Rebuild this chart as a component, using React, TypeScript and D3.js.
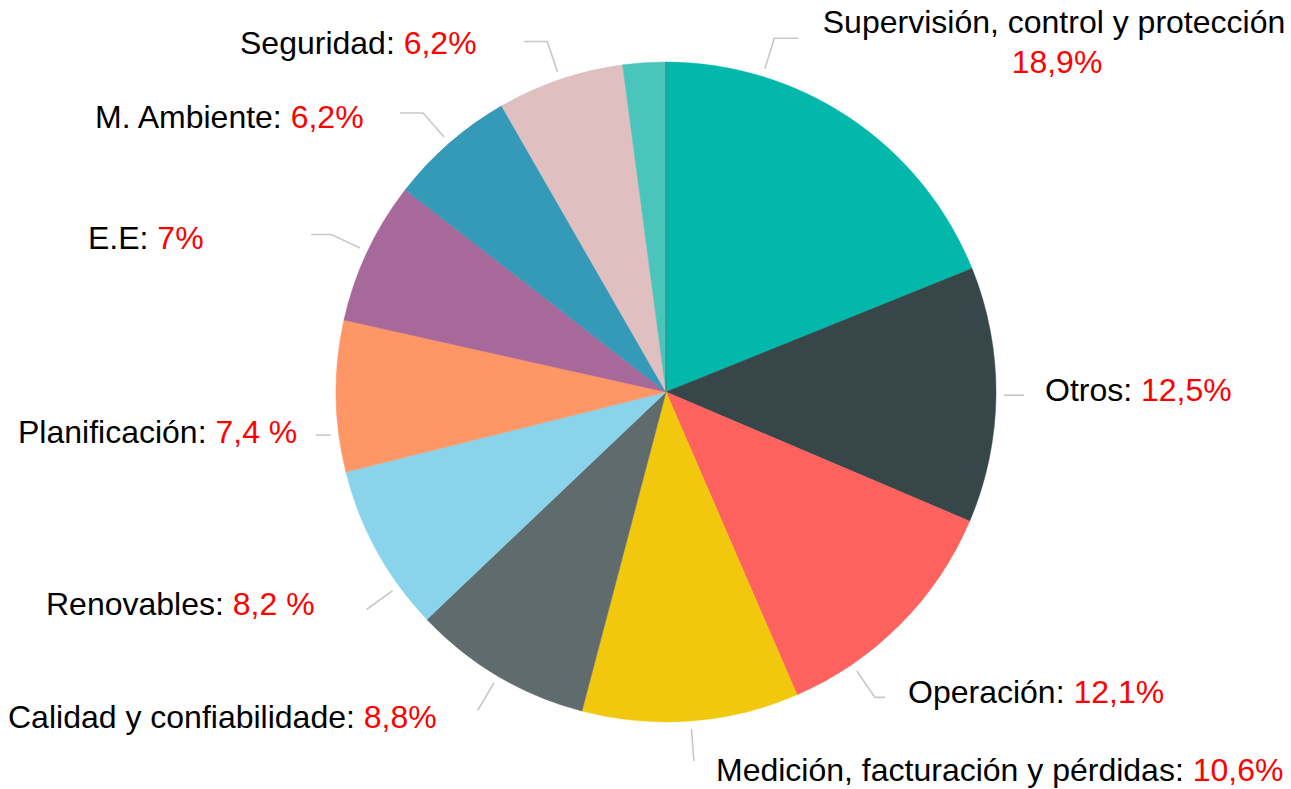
import React from "react";
import * as d3 from "d3";

const categories = [
  "Supervisión, control y protección",
  "Otros",
  "Operación",
  "Medición, facturación y pérdidas",
  "Calidad y confiabilidade",
  "Renovables",
  "Planificación",
  "E.E",
  "M. Ambiente",
  "Seguridad",
  "Sin etiqueta",
];
const values = [18.9, 12.5, 12.1, 10.6, 8.8, 8.2, 7.4, 7.0, 6.2, 6.2, 2.1];
const valueLabels = ["18,9%", "12,5%", "12,1%", "10,6%", "8,8%", "8,2 %", "7,4 %", "7%", "6,2%", "6,2%", ""];
const colors = [
  "#01B8AA", "#374649", "#FD625E", "#F2C80F", "#5F6B6D",
  "#8AD4EB", "#FE9666", "#A66999", "#3599B8", "#DFBFBF", "#4AC5BB",
];

// Label layout (annotation placement only)
const labelLayout = [
  { angleShift: -17, elbow: true, hLen: 24, x: 1054, y: 33, anchor: "middle", twoLines: true },
  { angleShift: 0, elbow: false, hLen: 20, x: 1045, y: 401, anchor: "start" },
  { angleShift: 10.8, elbow: true, hLen: 10, x: 908, y: 703, anchor: "start" },
  { angleShift: 0, elbow: true, hLen: 0, x: 716, y: 781, anchor: "start" },
  { angleShift: 0, elbow: true, hLen: 0, x: 8, y: 728, anchor: "start" },
  { angleShift: -7.2, elbow: true, hLen: 0, x: 46, y: 615, anchor: "start" },
  { angleShift: -6.6, elbow: false, hLen: -15, x: 18, y: 443, anchor: "start" },
  { angleShift: 0, elbow: true, hLen: -20, x: 88, y: 249, anchor: "start" },
  { angleShift: 0, elbow: true, hLen: -23, x: 95, y: 128, anchor: "start" },
  { angleShift: 0, elbow: true, hLen: -23, x: 240, y: 54, anchor: "start" },
  null,
];

const W = 1291;
const H = 789;
const cx = 666;
const cy = 392;
const R = 330;
const FS = 32;

export default function App() {
  const pie = d3.pie<number>().sort(null).value((d) => d);
  const arcs = pie(values);
  const arcGen = d3.arc<d3.PieArcDatum<number>>().innerRadius(0).outerRadius(R);
  const pt = (a: number, r: number) => [r * Math.sin(a), -r * Math.cos(a)];

  return (
    <div style={{ position: "fixed", left: 0, top: 0, width: W, height: H, background: "#fff" }}>
      <svg width={W} height={H} style={{ display: "block", fontFamily: "'Liberation Sans', Arial, sans-serif" }}>
        <g transform={`translate(${cx},${cy})`}>
          {arcs.map((a, i) => (
            <path key={i} d={arcGen(a) || ""} fill={colors[i]} stroke={colors[i]} strokeWidth={0.5} />
          ))}
          <line x1={0} y1={0} x2={0} y2={-R} stroke="#3a4a4c" strokeWidth={1} opacity={0.6} />
          {arcs.map((a, i) => {
            const L = labelLayout[i];
            if (!L) return null;
            const mid = (a.startAngle + a.endAngle) / 2 + (L.angleShift * Math.PI) / 180;
            const p0 = pt(mid, R + 8);
            const p1 = L.elbow ? pt(mid, R + 40) : p0;
            const p2 = [p1[0] + L.hLen, p1[1]];
            const d = `M${p0[0]},${p0[1]}L${p1[0]},${p1[1]}L${p2[0]},${p2[1]}`;
            return <path key={"l" + i} d={d} fill="none" stroke="#c8c8c8" strokeWidth={1.6} />;
          })}
        </g>
        {categories.map((c, i) => {
          const L = labelLayout[i];
          if (!L) return null;
          if (L.twoLines) {
            return (
              <g key={"t" + i} fontSize={FS}>
                <text x={L.x} y={L.y} textAnchor="middle" fill="#000">{c}</text>
                <text x={L.x + 3} y={L.y + 40} textAnchor="middle" fill="#ff0000">{valueLabels[i]}</text>
              </g>
            );
          }
          return (
            <text key={"t" + i} x={L.x} y={L.y} fontSize={FS} textAnchor={L.anchor as any}>
              <tspan fill="#000">{c + ": "}</tspan>
              <tspan fill="#ff0000">{valueLabels[i]}</tspan>
            </text>
          );
        })}
      </svg>
    </div>
  );
}
